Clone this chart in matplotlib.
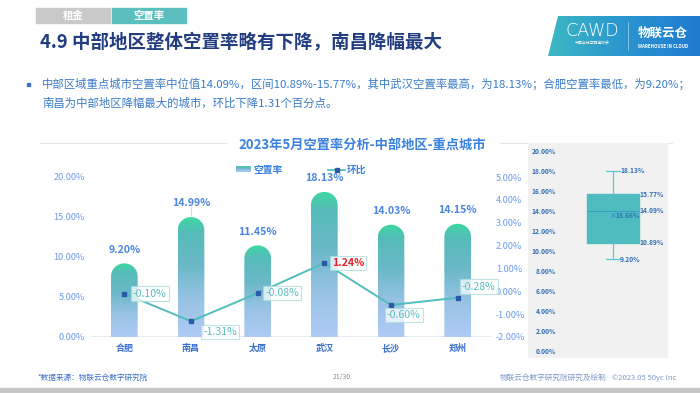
import numpy as np
import matplotlib.pyplot as plt
from matplotlib.patches import Polygon, Rectangle
from matplotlib.colors import LinearSegmentedColormap

plt.rcParams['font.family'] = ['Noto Sans CJK SC', 'DejaVu Sans']

# data
cities = ['合肥', '南昌', '太原', '武汉', '长沙', '郑州']
vacancy = [9.20, 14.99, 11.45, 18.13, 14.03, 14.15]
mom = [-0.10, -1.31, -0.08, 1.24, -0.60, -0.28]
left_ticks = [0, 5, 10, 15, 20]
right_ticks = [-2, -1, 0, 1, 2, 3, 4, 5]
box_ticks = [0, 2, 4, 6, 8, 10, 12, 14, 16, 18, 20]
box_min, box_q1, box_med, box_q3, box_max, box_mean = 9.20, 10.89, 14.09, 15.77, 18.13, 13.66

W, H = 700, 393
fig = plt.figure(figsize=(7, 3.93), dpi=100)


def px_axes(x0, y0, x1, y1):
    return fig.add_axes([x0 / W, 1 - y1 / H, (x1 - x0) / W, (y1 - y0) / H])


# background / slide layer in pixel coordinates
bg = px_axes(0, 0, W, H)
bg.axis('off')

# tabs
bg.add_patch(Rectangle((36, 8), 74, 15, color='#C9C9C9'))
bg.add_patch(Rectangle((112, 8), 74, 15, color='#5BBFBF'))
bg.text(73, 15.5, '租金', color='white', fontsize=7.5, fontweight='bold', ha='center', va='center')
bg.text(149, 15.5, '空置率', color='white', fontsize=7.5, fontweight='bold', ha='center', va='center')

# title
bg.text(40, 42, '4.9 中部地区整体空置率略有下降，南昌降幅最大', color='#223D80',
        fontsize=13.3, fontweight='bold', ha='left', va='center')

# logo
logo = Polygon([(548, 56), (558, 16), (700, 16), (700, 56)], closed=True, fc='none', ec='none')
bg.add_patch(logo)
logo_cmap = LinearSegmentedColormap.from_list('logo', ['#3DB8C4', '#2A95CF', '#1F7AD0'])
im = bg.imshow(np.linspace(0, 1, 256).reshape(1, -1), cmap=logo_cmap, extent=[548, 700, 56, 16],
               aspect='auto', zorder=1)
im.set_clip_path(logo)
bg.text(592, 31, 'CAWD', color='white', fontsize=12.5, family='DejaVu Sans', fontweight='light',
        ha='center', va='center', zorder=2)
bg.text(592, 44, '中国仓储与配送协会', color='white', fontsize=2.8, ha='center', va='center', zorder=2)
bg.plot([628, 628], [22, 50], color='white', lw=0.5, alpha=0.6, zorder=2)
bg.text(663, 33, '物联云仓', color='white', fontsize=9, fontweight='bold', ha='center', va='center', zorder=2)
bg.text(663, 47, 'WAREHOUSE IN CLOUD', color='white', fontsize=3.2, fontweight='bold',
        ha='center', va='center', zorder=2)

# bullet text
bg.add_patch(Rectangle((26.5, 82.5), 3, 3, color='#3A6FC8'))
bg.text(42, 84, '中部区域重点城市空置率中位值14.09%，区间10.89%-15.77%，其中武汉空置率最高，为18.13%；合肥空置率最低，为9.20%；',
        color='#3A7BC8', fontsize=8.2, ha='left', va='center')
bg.text(42, 103, '南昌为中部地区降幅最大的城市，环比下降1.31个百分点。',
        color='#3A7BC8', fontsize=8.2, ha='left', va='center')

# chart title with side rules
bg.plot([40, 226], [143, 143], color='#E6E6E6', lw=0.8)
bg.plot([500, 672], [143, 143], color='#E6E6E6', lw=0.8)
bg.text(362, 145, '2023年5月空置率分析-中部地区-重点城市', color='#3B82E0',
        fontsize=9.5, fontweight='bold', ha='center', va='center')

# legend
bar_cmap = LinearSegmentedColormap.from_list(
    'bar', [(0, '#AECBF5'), (0.3, '#9AC3E6'), (0.6, '#6BB8C8'), (0.88, '#55BDB8'), (1, '#3DD9A2')])
bg.imshow(np.linspace(0, 1, 64).reshape(-1, 1), cmap=bar_cmap, origin='lower',
          extent=[236, 251, 172.5, 167], aspect='auto')
bg.text(253, 169.5, '空置率', color='#3B82E0', fontsize=7, fontweight='bold', ha='left', va='center')
bg.plot([328, 345], [170, 170], color='#52BDBD', lw=1.3)
bg.plot([336.5], [170], marker='s', ms=2.5, color='#2B5BA8')
bg.text(347, 169.5, '环比', color='#3B82E0', fontsize=7, fontweight='bold', ha='left', va='center')

# footer
bg.text(37, 378, '*数据来源：物联云仓数字研究院', color='#3A6FC8', fontsize=5.5, style='italic',
        ha='left', va='center')
bg.text(342, 377, '21/30', color='#8A8A8A', fontsize=5, ha='center', va='center')
bg.text(500, 378, '物联云仓数字研究院研究及绘制', color='#7F9CC8', fontsize=5.5, ha='left', va='center')
bg.text(612, 378, '©2023.05 50yc Inc', color='#7F9CC8', fontsize=5.5, ha='left', va='center')
bg.add_patch(Rectangle((0, 388), W, 5, color='#C8C8C8'))
bg.set_xlim(0, W)
bg.set_ylim(H, 0)

# main chart
ax = px_axes(91, 177, 491, 337)
ax.patch.set_alpha(0)
x = np.arange(len(cities))
bw = 0.4
cap = 1.6
for xc, v in zip(x, vacancy):
    t = np.linspace(np.pi, 0, 40)
    xs = [xc - bw / 2] + list(xc + bw / 2 * np.cos(t)) + [xc + bw / 2]
    ys = [0] + list(v - cap + cap * np.sin(t)) + [0]
    poly = Polygon(list(zip(xs, ys)), closed=True, fc='none', ec='none')
    ax.add_patch(poly)
    g = ax.imshow(np.linspace(0, 1, 256).reshape(-1, 1), cmap=bar_cmap, origin='lower',
                  extent=[xc - bw / 2, xc + bw / 2, 0, v], aspect='auto', zorder=2)
    g.set_clip_path(poly)
    ax.text(xc, v + 1.1, f'{v:.2f}%', color='#4A86E0', fontsize=7.6, fontweight='bold',
            ha='center', va='bottom')
ax.plot([1, 1], [vacancy[1] + 0.2, vacancy[1] + 1.2], color='#C8DAF5', lw=0.8)

ax.set_xlim(-0.5, 5.5)
ax.set_ylim(0, 20)
ax.set_yticks(left_ticks)
ax.set_yticklabels([f'{v:.2f}%' for v in left_ticks])
ax.set_xticks(x)
ax.set_xticklabels(cities, fontweight='bold')
ax.tick_params(axis='y', length=0, pad=4.5, labelsize=6.6, labelcolor='#6E9CEA')
ax.tick_params(axis='x', length=0, pad=5, labelsize=6.5, labelcolor='#3A6FD0')
for s in ax.spines.values():
    s.set_visible(False)
ax.axhline(0, color='#E1E7F0', lw=1.2, zorder=1)

ax2 = ax.twinx()
ax2.set_ylim(-2, 5)
ax2.set_yticks(right_ticks)
ax2.set_yticklabels([f'{v:.2f}%' for v in right_ticks])
ax2.tick_params(axis='y', length=0, pad=3.5, labelsize=6.6, labelcolor='#6E9CEA')
for s in ax2.spines.values():
    s.set_visible(False)
ax2.plot(x, mom, color='#52BDBD', lw=1.4, zorder=3)
ax2.plot(x, mom, 's', ms=2.5, color='#2B5BA8', zorder=4)

offsets = [(6, 0), (9, -8), (5.5, 0), (5.5, 0), (-3, -7), (3, 8)]
for xc, v, off in zip(x, mom, offsets):
    red = v > 0
    ax2.annotate(f'{v:.2f}%', (xc, v), xytext=off, textcoords='offset points',
                 ha='left', va='center', fontsize=7.6,
                 color='#E8212A' if red else '#5BBDBD', fontweight='bold' if red else 'normal',
                 bbox=dict(boxstyle='square,pad=0.2', fc='white', alpha=0.75,
                           ec='#A9DCDC', lw=0.8), zorder=5)

# box plot panel
bx = px_axes(528, 143, 668, 358)
bx.set_facecolor('#F1F1F1')
for v in box_ticks:
    bx.text(28, v, f'{v:.2f}%', color='#2F6FB5', fontsize=4.8, fontweight='bold', ha='right', va='center')
stats = [dict(whislo=box_min, q1=box_q1, med=box_med, q3=box_q3, whishi=box_max, mean=box_mean, fliers=[])]
bx.bxp(stats, positions=[85], widths=52, patch_artist=True, showmeans=True, showfliers=False, capwidths=14,
       boxprops=dict(facecolor='#4FBDBF', edgecolor='#4FBDBF'),
       medianprops=dict(color='#3A9CC8', lw=0.8),
       whiskerprops=dict(color='#5CC6D2', lw=0.9),
       capprops=dict(color='#5CC6D2', lw=0.9),
       meanprops=dict(marker='x', markersize=3, markeredgecolor='#3A8FD0', markeredgewidth=0.7))
lab = dict(color='#2F6FB5', fontsize=4.8, fontweight='bold', va='center', ha='left')
bx.text(92, box_max, f'{box_max:.2f}%', **lab)
bx.text(111, box_q3, f'{box_q3:.2f}%', **lab)
bx.text(111, box_med, f'{box_med:.2f}%', **lab)
bx.text(111, box_q1, f'{box_q1:.2f}%', **lab)
bx.text(92, box_min, f'{box_min:.2f}%', **lab)
bx.text(87.5, box_mean, f'{box_mean:.2f}%', **lab)
bx.set_xlim(0, 140)
bx.set_ylim(-0.7, 20.9)
bx.set_xticks([])
bx.set_yticks([])
for s in bx.spines.values():
    s.set_visible(False)

fig.savefig('out.png', dpi=100)
